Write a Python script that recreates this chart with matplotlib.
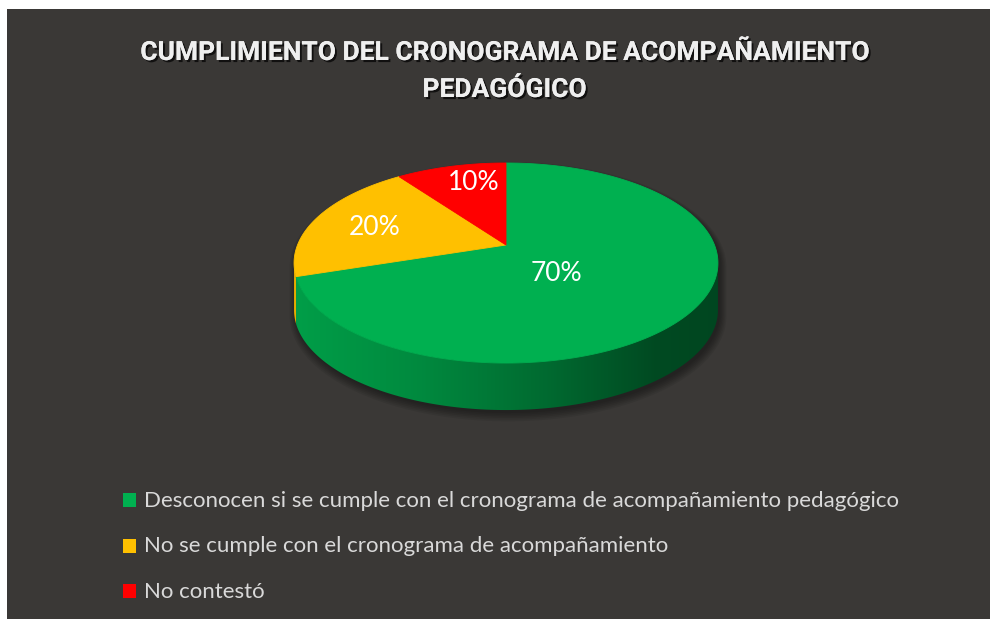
import numpy as np
import matplotlib.pyplot as plt
from matplotlib.patches import Polygon, Rectangle
import matplotlib.patheffects as pe

# Chart data
title_lines = ["CUMPLIMIENTO DEL CRONOGRAMA DE ACOMPAÑAMIENTO", "PEDAGÓGICO"]
categories = [
    "Desconocen si se cumple con el cronograma de acompañamiento pedagógico",
    "No se cumple con el cronograma de acompañamiento",
    "No contestó",
]
values = [70, 20, 10]
pct_labels = ["70%", "20%", "10%"]
colors = ["#00b050", "#ffc000", "#ff0000"]

# Layout of the 3D pie (pixel units)
cx, cy = 506, 245
rx, ry = 208.5, 96.8
persp = 0.18
depth = 47
label_r = [0.36, 0.676, 0.75]
label_shift = [-14, 1.9, -4.6]
bg = "#3a3836"


def proj(theta, r=1.0, dy=0.0):
    t = np.radians(theta)
    X = r * np.cos(t)
    Y = r * np.sin(t)
    d = 1 + persp * Y
    return cx + rx * X / d, cy - ry * Y / d + dy


def arc(a, b, dy=0.0, n=200):
    th = np.linspace(a, b, n)
    x, y = proj(th, dy=dy)
    return np.column_stack([x, y])


fig = plt.figure(figsize=(9.95, 6.19), dpi=100)
fig.patch.set_facecolor("white")
ax = fig.add_axes([0, 0, 1, 1])
ax.set_xlim(0, 995)
ax.set_ylim(619, 0)
ax.axis("off")

ax.add_patch(Rectangle((7, 9), 983, 620, facecolor=bg, edgecolor="none", zorder=0))

# slice angle ranges, clockwise from 12 o'clock
total = float(sum(values))
ends = 90 - 360 * np.cumsum(values) / total
starts = np.concatenate([[90], ends[:-1]])

vis_lo = 180 + np.degrees(np.arcsin(persp))
vis_hi = 360 - np.degrees(np.arcsin(persp))

# soft shadow under the pie
outline = np.vstack([arc(vis_hi - 360, vis_lo), arc(vis_lo, vis_hi, dy=depth)])
for k in range(6):
    sh = outline.copy()
    sh[:, 0] = cx + (sh[:, 0] - cx) * (1 + 0.006 * k) + 2
    sh[:, 1] = cy + (sh[:, 1] - cy) * (1 + 0.01 * k) + 3
    ax.add_patch(Polygon(sh, closed=True, facecolor="black", edgecolor="none",
                         alpha=0.07, zorder=1))

# side walls with horizontal shading
fx = [0.0, 0.3, 0.6, 0.85, 1.0]
fv = [0.9, 0.78, 0.6, 0.42, 0.4]
gx = np.linspace(0, 1, 400)
shade = np.interp(gx, fx, fv)
x0, x1 = cx - rx * 1.02, cx + rx * 1.02
for a, b, col in zip(ends, starts, colors):
    lo, hi = a % 360, b % 360
    if hi <= lo:
        hi += 360
    s_lo, s_hi = max(lo, vis_lo), min(hi, vis_hi)
    if s_hi <= s_lo:
        continue
    poly = np.vstack([arc(s_lo, s_hi), arc(s_hi, s_lo, dy=depth)])
    patch = Polygon(poly, closed=True, facecolor="none", edgecolor="none")
    ax.add_patch(patch)
    base = np.array(plt.matplotlib.colors.to_rgb(col))
    img = shade[None, :, None] * base[None, None, :]
    im = ax.imshow(img, extent=[x0, x1, cy + ry * 1.3 + depth, cy - 20],
                   aspect="auto", zorder=2, interpolation="bilinear")
    im.set_clip_path(patch)

# top faces
for a, b, col in zip(ends, starts, colors):
    pts = np.vstack([[cx, cy], arc(a, b)])
    ax.add_patch(Polygon(pts, closed=True, facecolor=col, edgecolor=col,
                         linewidth=0.6, zorder=3))

# percentage labels
for a, b, lab, r, s in zip(ends, starts, pct_labels, label_r, label_shift):
    x, y = proj((a + b) / 2 + s, r=r)
    ax.text(x, y, lab, color="white", fontsize=19, family="Lato",
            ha="center", va="center", zorder=4)

# title
shadow = [pe.withSimplePatchShadow(offset=(1.5, -1.5), shadow_rgbFace="black", alpha=0.7),
          pe.Normal()]
for line, yb in zip(title_lines, [60, 97]):
    ax.text(504.5, yb, line, color="#efefef", fontsize=19, fontweight="bold",
            family=["Roboto", "DejaVu Sans"], ha="center",
            va="baseline", path_effects=shadow, zorder=4)

# legend
for i, (cat, col) in enumerate(zip(categories, colors)):
    yb = 507 + i * 45.5
    ax.add_patch(Rectangle((123, yb - 14), 13, 14, facecolor=col,
                           edgecolor="none", zorder=4))
    ax.text(144, yb, cat, color="#d9d9d9", fontsize=16, family="Lato",
            ha="left", va="baseline", zorder=4)

fig.savefig("out.png", dpi=100, facecolor=fig.get_facecolor())
